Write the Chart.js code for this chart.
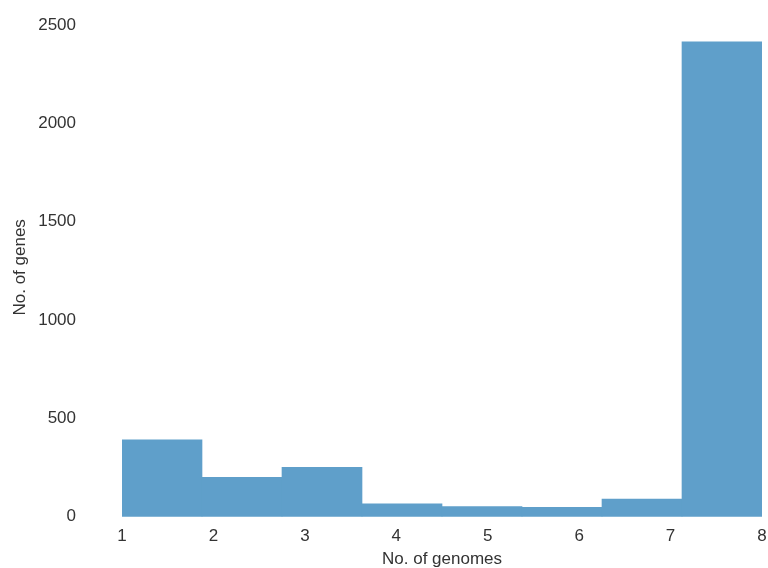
<!DOCTYPE html>
<html>
<head>
<meta charset="utf-8">
<script src="https://cdn.jsdelivr.net/npm/chart.js@4.4.1/dist/chart.umd.min.js"></script>
<style>
  html, body { margin: 0; padding: 0; background: #fff; }
  canvas { display: block; }
</style>
</head>
<body>
<canvas id="chart" width="768" height="568"></canvas>
<script>
// histogram bins (edges) and counts per bin
const binEdges = [1, 1.875, 2.75, 3.625, 4.5, 5.375, 6.25, 7.125, 8];
const geneCounts = [391, 200, 251, 65, 51, 48, 90, 2415];
const xTicks = [1, 2, 3, 4, 5, 6, 7, 8];
const yTicks = [0, 500, 1000, 1500, 2000, 2500];

const points = geneCounts.map((v, i) => ({
  x: (binEdges[i] + binEdges[i + 1]) / 2,
  y: v
}));

const textColor = '#333333';
const fontFamily = '"Liberation Sans", Arial, sans-serif';

const ctx = document.getElementById('chart').getContext('2d');
new Chart(ctx, {
  type: 'bar',
  data: {
    datasets: [{
      data: points,
      backgroundColor: '#5f9fca',
      borderWidth: 0,
      barPercentage: 1,
      categoryPercentage: 1
    }]
  },
  options: {
    responsive: false,
    animation: false,
    layout: { padding: { top: 18, right: 6, left: 0, bottom: 0 } },
    plugins: { legend: { display: false }, tooltip: { enabled: false } },
    scales: {
      x: {
        type: 'linear',
        min: binEdges[0],
        max: binEdges[binEdges.length - 1],
        offset: false,
        grid: { display: false, drawTicks: false },
        border: { display: false },
        afterBuildTicks: (s) => { s.ticks = xTicks.map(v => ({ value: v })); },
        ticks: {
          color: textColor, font: { family: fontFamily, size: 17 }, padding: 9,
          callback: (v) => String(v)
        },
        title: {
          display: true, text: 'No. of genomes', color: textColor,
          font: { family: fontFamily, size: 17, lineHeight: 1 },
          padding: { top: 0, bottom: 0 }
        },
        afterFit: (s) => {
          s.height = 51.3;
          s.paddingLeft = 0; s.paddingRight = 0;
        }
      },
      y: {
        min: 0,
        max: 2536,
        grid: { display: false, drawTicks: false },
        border: { display: false },
        afterBuildTicks: (s) => { s.ticks = yTicks.map(v => ({ value: v })); },
        ticks: {
          color: textColor, font: { family: fontFamily, size: 17 }, padding: 46,
          callback: (v) => String(v)
        },
        title: {
          display: true, text: 'No. of genes', color: textColor,
          font: { family: fontFamily, size: 17, lineHeight: 1 },
          padding: { top: 12, bottom: 0 }
        },
        afterFit: (s) => {
          s.width = 122;
          s.paddingTop = 0; s.paddingBottom = 0;
        }
      }
    }
  }
});
</script>
</body>
</html>
